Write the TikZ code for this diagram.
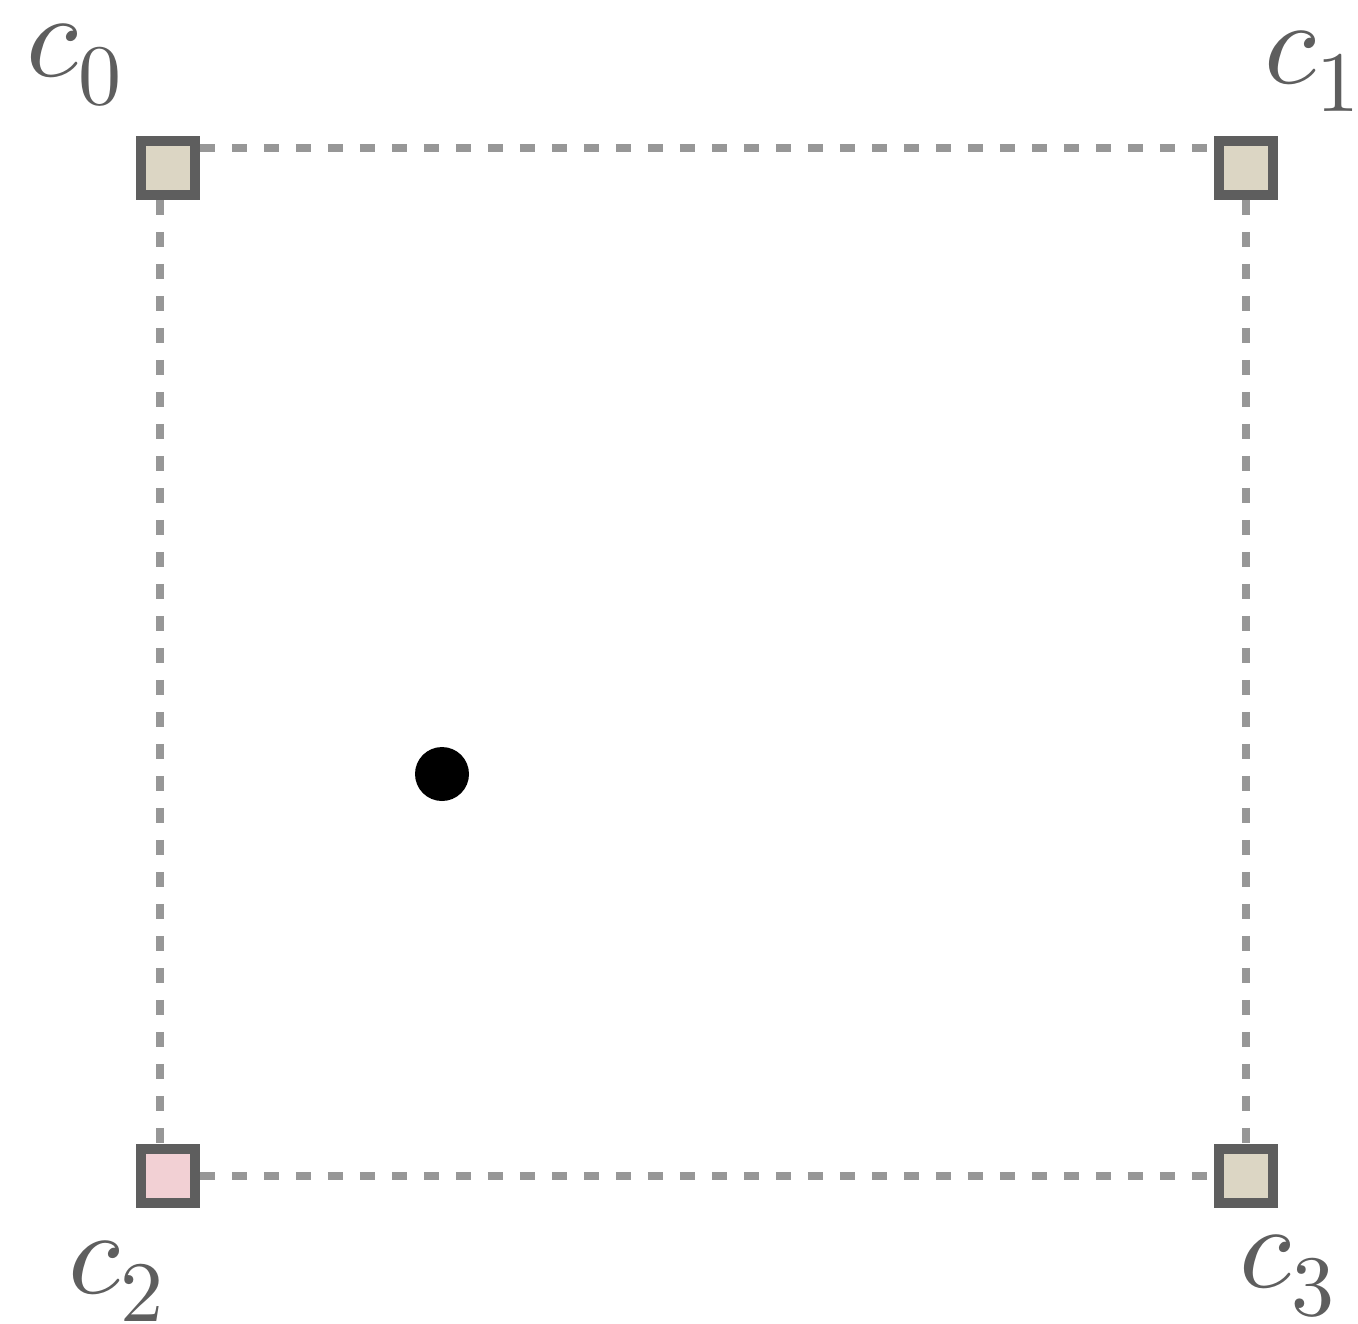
\documentclass[tikz,border=0pt]{standalone}
\usepackage{xcolor}
\usepackage{tikz}

\definecolor{boxgray}{HTML}{5E5E5E}
\definecolor{dashgray}{HTML}{979797}
\definecolor{sand}{HTML}{DCD6C4}
\definecolor{rose}{HTML}{F2D0D4}

\newcommand{\biglbl}[2]{\scalebox{6.8}{$#1_{\raisebox{-0.85pt}{\scalebox{0.72}{$#2$}}}$}}

\begin{document}
\begin{tikzpicture}[
          x=0.02cm, y=-0.02cm,
          corner/.style={draw=boxgray, line width=0.2cm, minimum size=1.08cm, inner sep=0pt, fill=sand},
          link/.style={draw=dashgray, line width=0.16cm, dash pattern=on 0.3cm off 0.34cm},
          lbl/.style={text=boxgray, inner sep=0pt, anchor=base west}
        ]
          \useasboundingbox (0,0) rectangle (1358,1323);
          % corners of the cell
          \node[corner] (c0) at (168,168) {};
          \node[corner] (c1) at (1246,168) {};
          \node[corner, fill=rose] (c2) at (168,1176) {};
          \node[corner] (c3) at (1246,1176) {};
          \draw[link] ([yshift=0.4cm]c0.east) -- ([yshift=0.4cm]c1.west);
          \draw[link] ([xshift=-0.16cm]c0.south) -- ([xshift=-0.16cm]c2.north);
          \draw[link] (c1.south) -- (c3.north);
          \draw[link] (c2.east) -- (c3.west);
          % sample point
          \node[circle, fill=black, minimum size=1.08cm, inner sep=0pt] (p) at (442,774) {};
          % labels
          \node[lbl] (l0) at (26,76) {\biglbl{c}{0}};
          \node[lbl] (l1) at (1264,83) {\biglbl{c}{1}};
          \node[lbl] (l2) at (68,1293) {\biglbl{c}{2}};
          \node[lbl] (l3) at (1239,1287) {\biglbl{c}{3}};
        \end{tikzpicture}
\end{document}
